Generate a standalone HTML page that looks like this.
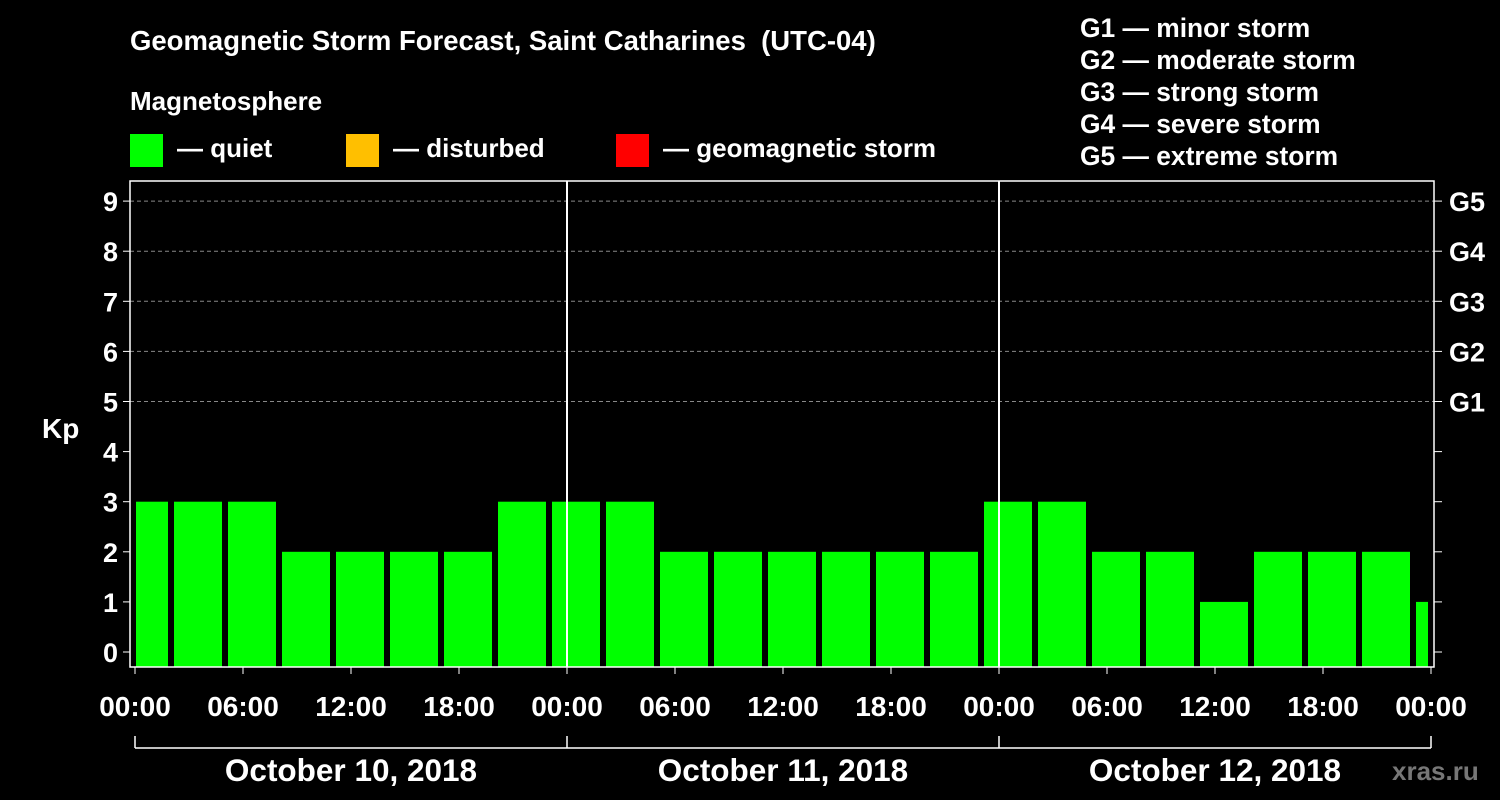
<!DOCTYPE html>
<html><head><meta charset="utf-8"><style>
html,body{margin:0;padding:0;background:#000;}
svg{display:block;font-family:"Liberation Sans",Arial,sans-serif;font-weight:bold;}
</style></head><body>
<svg id="chart" width="1500" height="800" viewBox="0 0 1500 800">
<rect width="1500" height="800" fill="#000"/>
<text x="130" y="50" fill="#fff" font-size="27.5">Geomagnetic Storm Forecast, Saint Catharines &#160;(UTC-04)</text>
<text x="130" y="110" fill="#fff" font-size="26">Magnetosphere</text>
<g><rect x="130" y="134" width="33" height="33" fill="#00ff00"/><text x="177" y="157" fill="#fff" font-size="26">— quiet</text></g>
<g><rect x="346" y="134" width="33" height="33" fill="#ffbf00"/><text x="393" y="157" fill="#fff" font-size="26">— disturbed</text></g>
<g><rect x="616" y="134" width="33" height="33" fill="#ff0000"/><text x="663" y="157" fill="#fff" font-size="26">— geomagnetic storm</text></g>
<g fill="#fff" font-size="26.4">
<text x="1080" y="37">G1 — minor storm</text>
<text x="1080" y="69">G2 — moderate storm</text>
<text x="1080" y="101">G3 — strong storm</text>
<text x="1080" y="133">G4 — severe storm</text>
<text x="1080" y="165">G5 — extreme storm</text>
</g>
<text x="42" y="438" fill="#fff" font-size="28">Kp</text>
<text x="1392" y="780" fill="#777" font-size="26">xras.ru</text>
<g id="plot"></g>
</svg>
<script>
const kpValues=[3,3,3,2,2,2,2,3,3,3,2,2,2,2,2,2,3,3,2,2,1,2,2,2,1];
const yTicks=[0,1,2,3,4,5,6,7,8,9];
const gLabels=["G1","G2","G3","G4","G5"];
const xTickLabels=["00:00","06:00","12:00","18:00","00:00","06:00","12:00","18:00","00:00","06:00","12:00","18:00","00:00"];
const dayLabels=["October 10, 2018","October 11, 2018","October 12, 2018"];
const NS="http://www.w3.org/2000/svg";
const g=document.getElementById('plot');
const X0=135,PXH=18,Y0=652,PXK=50.1,L=130,R=1434,T=181,B=667;
const xs=h=>X0+h*PXH, ys=k=>Y0-k*PXK;
function el(t,a){const e=document.createElementNS(NS,t);for(const k in a)e.setAttribute(k,a[k]);g.appendChild(e);return e;}
for(let k=5;k<=9;k++){const e=el('line',{x1:L,x2:R,y1:ys(k),y2:ys(k),stroke:'#888','stroke-dasharray':'4,3','stroke-width':1});

}
kpValues.forEach((v,i)=>{let x1=xs(i*3)-15,x2=x1+48;x1=Math.max(x1,136);x2=Math.min(x2,1428);
const e=el('rect',{x:x1,y:ys(v),width:x2-x1,height:B-ys(v),fill:v>=5?'#ff0000':v>=4?'#ffbf00':'#00ff00'});

});
const f=el('rect',{x:L,y:T,width:R-L,height:B-T,fill:'none',stroke:'#fff','stroke-width':1.5});


[24,48].forEach(h=>{const e=el('line',{x1:xs(h),x2:xs(h),y1:T,y2:B,stroke:'#fff','stroke-width':2});

});
yTicks.forEach(k=>{el('line',{x1:L-7,x2:L,y1:ys(k),y2:ys(k),stroke:'#fff'});el('line',{x1:R,x2:R+8,y1:ys(k),y2:ys(k),stroke:'#fff'});
const t=el('text',{x:118,y:ys(k)+10,fill:'#fff','font-size':27,'text-anchor':'end'});t.textContent=k;

});
gLabels.forEach((s,i)=>{const t=el('text',{x:1449,y:ys(i+5)+10,fill:'#fff','font-size':27});t.textContent=s;

});
xTickLabels.forEach((s,i)=>{const x=xs(i*6);el('line',{x1:x,x2:x,y1:B,y2:B+7,stroke:'#fff'});
const t=el('text',{x:x,y:716,fill:'#fff','font-size':28,'text-anchor':'middle'});t.textContent=s;

});
el('line',{x1:xs(0),x2:xs(72),y1:748,y2:748,stroke:'#fff','stroke-width':1.5});
[0,24,48,72].forEach(h=>el('line',{x1:xs(h),x2:xs(h),y1:736,y2:748,stroke:'#fff','stroke-width':1.5}));
dayLabels.forEach((s,i)=>{const t=el('text',{x:xs(i*24+12),y:781,fill:'#fff','font-size':31.5,'text-anchor':'middle'});t.textContent=s;

});
</script>
</body></html>
